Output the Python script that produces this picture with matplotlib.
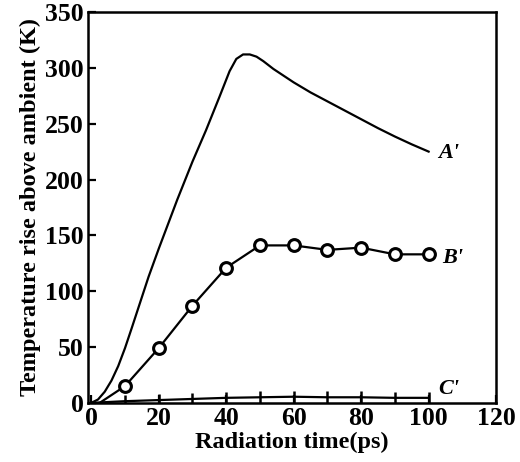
import numpy as np
import matplotlib.pyplot as plt

plt.rcParams["font.family"] = "Liberation Serif"
plt.rcParams["font.weight"] = "bold"

# curve A' (continuous line)
a_time = [0, 2, 4, 6, 8, 10, 12, 14.5, 17, 20, 25.5, 30, 34, 38, 41, 43, 45, 47, 49, 51, 54, 57, 60,
          65, 70, 75, 80, 85, 90, 95, 100]
a_temp = [0, 3, 10, 20, 33, 49, 67, 90, 113, 138, 182, 216, 244, 274, 297, 308, 312, 312, 310, 306, 299, 293, 287,
          278, 270, 262, 254, 246, 238.5, 231.5, 225]

# curve B' (circles)
b_time = [10, 20, 30, 40, 50, 60, 70, 80, 90, 100]
b_temp = [15, 49, 87, 121, 141, 141, 137, 139, 133, 133]
b_start = (2.5, 0)

# curve C' (crosses)
c_time = [0, 10, 20, 30, 40, 50, 60, 70, 80, 90, 100]
c_temp = [0, 1.5, 2.5, 3.5, 4.5, 5, 5.5, 5, 5, 4.5, 4.5]

labels = ["A'", "B'", "C'"]
label_pos = [(106, 224), (107, 130), (106, 12)]

fig = plt.figure(figsize=(5.2, 4.62), dpi=100)
ax = fig.add_axes([0.169, 0.128, 0.785, 0.846])

ax.plot(a_time, a_temp, color='black', lw=1.6)
ax.plot([b_start[0]] + b_time, [b_start[1]] + b_temp, color='black', lw=1.6)
ax.plot(b_time, b_temp, 'o', color='black', mfc='white', mec='black', ms=8.5, mew=2.2)
ax.plot(c_time, c_temp, color='black', lw=1.6)
ax.plot(c_time[1:], c_temp[1:], '|', color='black', ms=9, mew=1.8)

for lab, (x, y) in zip(labels, label_pos):
    ax.text(x, y, lab, fontsize=16, style='italic', ha='center', va='center')

ax.set_xlim(-1, 120)
ax.set_ylim(0, 350)
ax.set_xticks(np.arange(0, 121, 20))
ax.set_yticks(np.arange(0, 351, 50))
ax.tick_params(direction='in', length=6, width=1.6, labelsize=18.5, top=False, right=False, pad=3)
for s in ax.spines.values():
    s.set_linewidth(1.8)

ax.set_xlabel('Radiation time(ps)', fontsize=17.5, fontweight='bold', labelpad=1)
ax.set_ylabel('Temperature rise above ambient (K)', fontsize=17.5, fontweight='bold', labelpad=3)

fig.savefig('out.png', dpi=100)
